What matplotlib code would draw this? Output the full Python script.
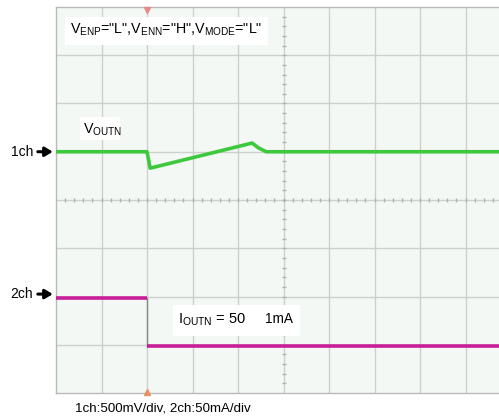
import matplotlib
matplotlib.use('Agg')
from matplotlib import pyplot as plt
from matplotlib.patches import Rectangle

plt.rcParams['font.family'] = ['Liberation Sans', 'DejaVu Sans']
plt.rcParams['mathtext.fontset'] = 'custom'
plt.rcParams['mathtext.rm'] = 'Liberation Sans'

# screen is 10 x 8 divisions, values below are in divisions
ch1_t = [0, 2.0, 2.07, 4.31, 4.45, 4.62, 10]
ch1_v = [1.0, 1.0, 0.66, 1.18, 1.08, 1.0, 1.0]
ch2_t = [0, 2.0, 2.0, 10]
ch2_v = [-2.03, -2.03, -3.02, -3.02]

green = '#3ec83e'
magenta = '#c81e98'
grid_col = '#cdd0cd'

fig = plt.figure(figsize=(4.99, 4.19), dpi=100)
# right edge of the screen runs off the picture
ax = fig.add_axes([56/499, 26/419, 455/499, 386/419])
ax.set_xlim(0, 10)
ax.set_ylim(-4, 4)
ax.set_facecolor('#f4f8f4')
for s in ax.spines.values():
	s.set_color('#b8bab8')
	s.set_linewidth(1)
ax.set_xticks([])
ax.set_yticks([])

for x in range(1, 10):
	ax.axvline(x, color=grid_col, lw=1, zorder=1)
for y in range(-3, 4):
	ax.axhline(y, color=grid_col, lw=1, zorder=1)

# minor ticks on the centre lines
minor = [i * 0.2 for i in range(1, 50)]
ax.plot(minor, [0]*len(minor), ls='none', marker='|', ms=3, color='#b0b2b0', zorder=1)
minor_y = [-4 + i * 0.2 for i in range(1, 40)]
ax.plot([5]*len(minor_y), minor_y, ls='none', marker='_', ms=3, color='#b0b2b0', zorder=1)

# trigger markers
ax.plot([2], [3.93], marker='v', ms=4, color='#e88888', clip_on=False, zorder=3)
ax.plot([2], [-3.97], marker='^', ms=4, color='#e89060', clip_on=False, zorder=3)

# traces
ax.plot([2.0, 2.0], [-2.03, -3.02], color='#888888', lw=1, zorder=2)
ax.plot(ch1_t, ch1_v, color=green, lw=2.6, solid_capstyle='butt', zorder=3)
ax.plot(ch2_t[:2], ch2_v[:2], color=magenta, lw=2.6, solid_capstyle='butt', zorder=3)
ax.plot(ch2_t[2:], ch2_v[2:], color=magenta, lw=2.6, solid_capstyle='butt', zorder=3)

# white label boxes
ax.add_patch(Rectangle((0.2, 3.21), 4.46, 0.58, facecolor='white', edgecolor='none', zorder=4))
ax.add_patch(Rectangle((0.53, 1.24), 0.88, 0.48, facecolor='white', edgecolor='none', zorder=4))
ax.add_patch(Rectangle((2.57, -2.82), 2.79, 0.64, facecolor='white', edgecolor='none', zorder=4))

ax.text(0.31, 3.53, r'V$_\mathrm{ENP}$="L",V$_\mathrm{ENN}$="H",V$_\mathrm{MODE}$="L"',
	fontsize=10.3, va='center', ha='left', zorder=5)
ax.text(0.59, 1.45, r'V$_\mathrm{OUTN}$', fontsize=10.3, va='center', ha='left', zorder=5)
ax.text(2.68, -2.47, r'I$_\mathrm{OUTN}$ = 50', fontsize=10.5, va='center', ha='left', zorder=5)
ax.text(4.6, -2.47, '1mA', fontsize=9.8, va='center', ha='left', zorder=5)

# channel markers on the left
for lab, yv in (('1ch', 1.0), ('2ch', -1.95)):
	ax.annotate('', xy=(-0.07, yv), xytext=(-0.4, yv), xycoords='data',
		arrowprops=dict(arrowstyle='-|>,head_length=0.45,head_width=0.27', color='black',
			lw=2.2, shrinkA=0, shrinkB=0),
		annotation_clip=False)
	ax.text(-0.5, yv, lab, fontsize=10, va='center', ha='right')

fig.text(75/499, 1 - 408/419, '1ch:500mV/div, 2ch:50mA/div', fontsize=9.6, va='center', ha='left')

fig.savefig('out.png', dpi=100)
